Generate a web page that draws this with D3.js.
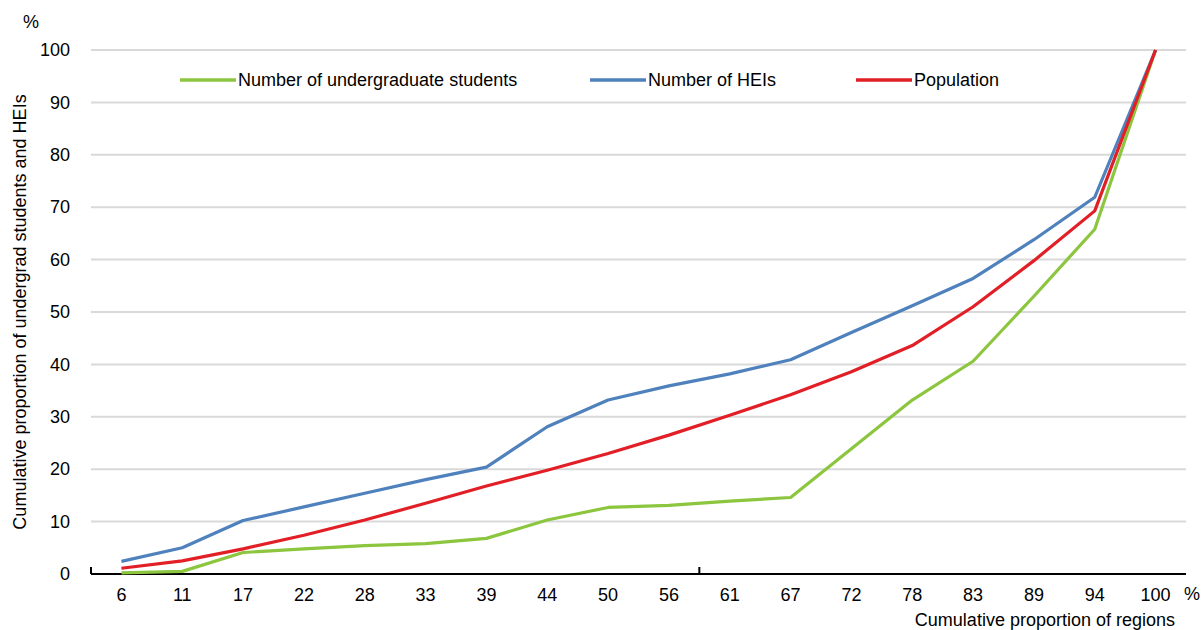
<!DOCTYPE html>
<html>
<head>
<meta charset="utf-8">
<script src="https://cdn.jsdelivr.net/npm/d3@7/dist/d3.min.js"></script>
<style>
  html, body { margin: 0; padding: 0; background: #fff; }
  svg { display: block; font-family: "Liberation Sans", Arial, sans-serif; }
</style>
</head>
<body>
<svg id="chart" width="1203" height="630"></svg>
<script>
// Cumulative proportion of regions (x categories, %)
const regions = ["6","11","17","22","28","33","39","44","50","56","61","67","72","78","83","89","94","100"];

// Cumulative shares (%) for each series
const undergrad = [0.2, 0.5, 4.1, 4.8, 5.4, 5.8, 6.8, 10.3, 12.7, 13.1, 13.9, 14.6, 23.9, 33.2, 40.6, 53.0, 65.8, 100];
const heis      = [2.4, 5.0, 10.2, 12.8, 15.4, 18.0, 20.4, 28.1, 33.2, 35.9, 38.2, 40.9, 46.1, 51.2, 56.4, 63.8, 71.9, 100];
const population= [1.1, 2.5, 4.8, 7.4, 10.3, 13.5, 16.8, 19.8, 23.0, 26.5, 30.3, 34.2, 38.6, 43.6, 51.0, 59.8, 69.3, 100];

const yTicks = [0, 10, 20, 30, 40, 50, 60, 70, 80, 90, 100];

const seriesNames = ["Number of undergraduate students", "Number of HEIs", "Population"];
const seriesColors = ["#8cc63f", "#4f81bd", "#e21f26"];
const seriesData = [undergrad, heis, population];

const svg = d3.select("#chart");
const plotLeft = 91, plotRight = 1186, plotTop = 50, plotBottom = 574;
const fs = 18;

const x = d3.scaleBand().domain(regions).range([plotLeft, plotRight]).paddingInner(0).paddingOuter(0);
const y = d3.scaleLinear().domain([0, 100]).range([plotBottom, plotTop]);

// horizontal gridlines
svg.append("g").selectAll("line")
  .data(yTicks.filter(d => d > 0))
  .join("line")
  .attr("x1", plotLeft).attr("x2", plotRight)
  .attr("y1", d => y(d)).attr("y2", d => y(d))
  .attr("stroke", "#d9d9d9").attr("stroke-width", 2);

// y-axis labels
const yAxis = d3.axisLeft(y).tickValues(yTicks).tickSize(0).tickPadding(0);
const gy = svg.append("g").attr("transform", `translate(${70},0)`).call(yAxis);
gy.select(".domain").remove();
gy.selectAll("text").attr("font-size", fs).attr("fill", "#000")
  .attr("font-family", "Liberation Sans, Arial, sans-serif");

svg.append("text").attr("x", 31).attr("y", 28).attr("text-anchor", "middle")
  .attr("font-size", fs).text("%");

svg.append("text")
  .attr("transform", `translate(26,${312}) rotate(-90)`)
  .attr("text-anchor", "middle").attr("font-size", fs)
  .text("Cumulative proportion of undergrad students and HEIs");

// x-axis
const xAxis = d3.axisBottom(x).tickSize(0).tickPadding(0);
const gx = svg.append("g").attr("transform", `translate(0,${plotBottom})`).call(xAxis);
gx.select(".domain").remove();
gx.selectAll("text").attr("dy", "1.5em").attr("font-size", fs).attr("fill", "#000")
  .attr("font-family", "Liberation Sans, Arial, sans-serif");

svg.append("line").attr("x1", plotLeft).attr("x2", plotRight)
  .attr("y1", plotBottom).attr("y2", plotBottom)
  .attr("stroke", "#000").attr("stroke-width", 2);

// category-boundary tick marks every 10 categories
const boundaryIdx = [0, 10];
svg.append("g").selectAll("line")
  .data(boundaryIdx)
  .join("line")
  .attr("x1", i => plotLeft + i * x.step()).attr("x2", i => plotLeft + i * x.step())
  .attr("y1", plotBottom).attr("y2", plotBottom - 7)
  .attr("stroke", "#000").attr("stroke-width", 2);

svg.append("text").attr("x", 1192).attr("y", 600).attr("text-anchor", "middle")
  .attr("font-size", fs).text("%");
svg.append("text").attr("x", 1175).attr("y", 626).attr("text-anchor", "end")
  .attr("font-size", fs).text("Cumulative proportion of regions");

// series lines
const line = d3.line()
  .x((d, i) => x(regions[i]) + x.bandwidth() / 2)
  .y(d => y(d));

svg.append("g").selectAll("path")
  .data(seriesData)
  .join("path")
  .attr("d", d => line(d))
  .attr("fill", "none")
  .attr("stroke", (d, i) => seriesColors[i])
  .attr("stroke-width", 3.2)
  .attr("stroke-linejoin", "round");

// legend
const legendX = [180, 590, 856];
const lg = svg.append("g").selectAll("g")
  .data(seriesNames)
  .join("g")
  .attr("transform", (d, i) => `translate(${legendX[i]},${80})`);
lg.append("line").attr("x1", 0).attr("x2", 56).attr("y1", 0).attr("y2", 0)
  .attr("stroke", (d, i) => seriesColors[i]).attr("stroke-width", 3.5);
lg.append("text").attr("x", 58).attr("y", 6).attr("font-size", fs).text(d => d);
</script>
</body>
</html>
